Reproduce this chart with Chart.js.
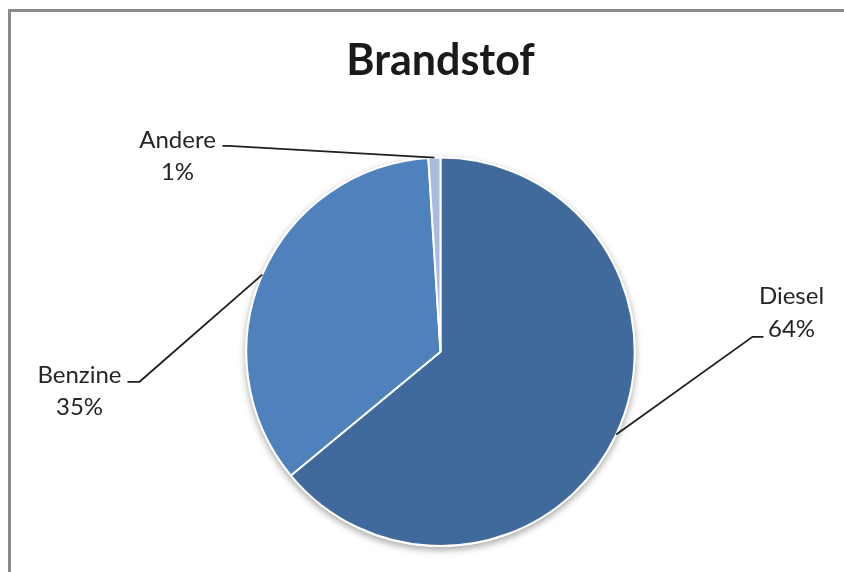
<!DOCTYPE html>
<html>
<head>
<meta charset="utf-8">
<script src="https://cdn.jsdelivr.net/npm/chart.js@4/dist/chart.umd.min.js"></script>
<style>
  html, body { margin: 0; padding: 0; background: #fff; overflow: hidden; }
  #frame { position: absolute; left: 8px; top: 9px; width: 836px; height: 563px; border-left: 3px solid #8a8a8a; border-top: 3px solid #8a8a8a; }
  #wrap { position: absolute; left: 0; top: 0; width: 844px; height: 572px; }
</style>
</head>
<body>
<div id="frame"></div>
<div id="wrap"><canvas id="pie-chartcanvas"></canvas></div>
<script>
// data
var labels = ["Diesel", "Benzine", "Andere"];
var values = [64, 35, 1];
var percentLabels = ["64%", "35%", "1%"];

var colors = ["#416A9C", "#4F81BD", "#A9BCDD"];

// label layout, offsets from pie centre: [textX, baseline1, baseline2, elbowX, elbowY, stubX]
var labelLayout = [
	[351, -48, -15, 312, -15, 323],
	[-361, 31, 63, -301, 30, -313],
	[-263, -204, -172, -212, -206, -218]
];

var shadowPlugin = {
	id : "pieShadow",
	beforeDatasetsDraw : function (chart) {
		var arc = chart.getDatasetMeta(0).data[0];
		if (!arc) return;
		var p = arc.getProps(["x", "y", "outerRadius"], true);
		var ctx = chart.ctx;
		ctx.save();
		ctx.shadowColor = "rgba(0,0,0,0.35)";
		ctx.shadowBlur = 7;
		ctx.shadowOffsetY = 3;
		ctx.fillStyle = "#ffffff";
		ctx.beginPath();
		ctx.arc(p.x, p.y, p.outerRadius + 1, 0, Math.PI * 2);
		ctx.fill();
		ctx.restore();
	}
};

var labelPlugin = {
	id : "leaderLabels",
	afterDatasetsDraw : function (chart) {
		var ctx = chart.ctx;
		var arcs = chart.getDatasetMeta(0).data;
		ctx.save();
		arcs.forEach(function (arc, i) {
			var p = arc.getProps(["x", "y", "startAngle", "endAngle", "outerRadius"], true);
			var mid = (p.startAngle + p.endAngle) / 2;
			var ex = p.x + Math.cos(mid) * p.outerRadius;
			var ey = p.y + Math.sin(mid) * p.outerRadius;
			var L = labelLayout[i];

			ctx.strokeStyle = "#1f1f1f";
			ctx.lineWidth = 1.8;
			ctx.beginPath();
			ctx.moveTo(ex, ey);
			ctx.lineTo(p.x + L[3], p.y + L[4]);
			ctx.lineTo(p.x + L[5], p.y + L[4]);
			ctx.stroke();

			ctx.fillStyle = "#262626";
			ctx.font = "24px Lato";
			ctx.textAlign = "center";
			ctx.textBaseline = "alphabetic";
			ctx.fillText(labels[i], p.x + L[0], p.y + L[1]);
			ctx.fillText(percentLabels[i], p.x + L[0], p.y + L[2]);
		});
		ctx.restore();
	}
};

var data = {
	labels : labels,
	datasets : [
		{
			label : "Brandstof",
			data : values,
			backgroundColor : colors,
			borderColor : "#ffffff",
			borderWidth : 2
		}
	]
};

var options = {
	responsive : true,
	maintainAspectRatio : false,
	animation : false,
	layout : {
		padding : { top : 0, bottom : 25, left : 37, right : 0 }
	},
	plugins : {
		title : {
			display : true,
			position : "top",
			text : "Brandstof",
			color : "#1a1a1a",
			font : { family : "Lato", size : 43, weight : "bold", lineHeight : 1.2 },
			padding : { top : 35, bottom : 70 }
		},
		legend : { display : false },
		tooltip : { enabled : false }
	}
};

var chart = new Chart(document.getElementById("pie-chartcanvas"), {
	type : "pie",
	data : data,
	options : options,
	plugins : [shadowPlugin, labelPlugin]
});
</script>
</body>
</html>
